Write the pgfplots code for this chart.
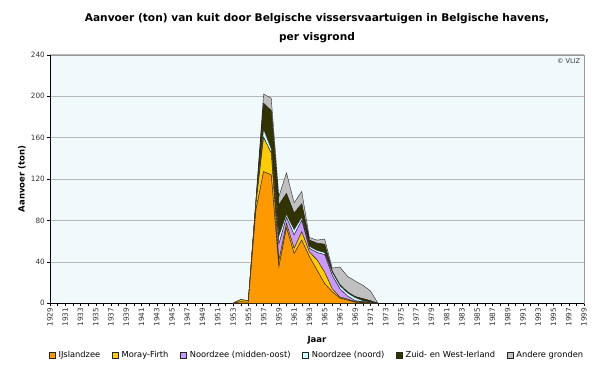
\documentclass[border=0pt]{standalone}
\usepackage{pgfplots}
\pgfplotsset{compat=1.18}
\usepackage{pgfplotstable}
\usepackage{fontspec}
\setmainfont{DejaVu Sans}
\definecolor{cOr}{HTML}{FF9900}
\definecolor{cYe}{HTML}{FFCC00}
\definecolor{cPu}{HTML}{CC99FF}
\definecolor{cCy}{HTML}{CCFFFF}
\definecolor{cOl}{HTML}{333300}
\definecolor{cGr}{HTML}{C0C0C0}
\definecolor{bgc}{HTML}{F0FAFC}
\definecolor{grid}{HTML}{B8B8B8}
\pgfplotstableread{
year o y p c z g
1953 0 0 0 0 0 0
1954 1.5 2 0 0 0 0
1955 1 1.5 0 0 0 0
1956 90 6 0 1 3 1
1957 127 33 0 8 25 9
1958 124 21 0 4 37 12
1959 35 6 16 8 30 8
1960 73 4 6 3 20 20
1961 48 5 13 5 16 10
1962 61 8 11 3 13 12
1963 45 4.5 3.5 2 6 2.5
1964 32 10 7 2 7 3
1965 19 11 17 2 8 5
1966 11 3 13 3 1 3
1967 5 1 8 3 1 17
1968 3 1 3 3 1 15
1969 1 0.5 1 3 1 15
1970 0.5 0.5 0.5 1 2 13
1971 0 0 0 0.5 2 9.5
1972 0 0 0 0 0 0
}\data
\begin{document}
\begin{tikzpicture}[x=1pt,y=1pt]
\path[use as bounding box] (0,0) rectangle (600,368);
\begin{axis}[
  at={(50pt,64.7pt)}, anchor=south west,
  scale only axis, width=534pt, height=248.6pt,
  xmin=1929, xmax=1999, ymin=0, ymax=240,
  clip=false,
  axis background/.style={fill=bgc},
  axis line style={draw=gray!80},
  xtick={1929,1931,...,1999},
  minor xtick={1930,1932,...,1998},
  ytick={0,40,...,240},
  xtick pos=bottom, ytick pos=left,
  tick align=outside,
  major tick length=3pt, minor tick length=3pt,
  tick style={black, line width=0.4pt},
  ymajorgrids, grid style={draw=grid, line width=0.6pt},
  /pgf/number format/assume math mode=true,
  /pgf/number format/1000 sep={},
  ticklabel style={font=\fontsize{7.3}{8}\selectfont, text=black!80},
  xticklabel style={rotate=90, anchor=east, inner sep=1.5pt},
  yticklabel style={inner sep=2pt},
  stack plots=y,
  every axis plot/.append style={draw=black!85, line width=0.4pt},
  legend image code/.code={\draw[#1, line width=0.4pt] (0pt,-3.2pt) rectangle (6.4pt,3.2pt);},
  legend style={at={(axis description cs:0.5,0)}, yshift=-51.7pt, anchor=center,
    draw=none, fill=none, font=\fontsize{8.3}{9}\selectfont, legend columns=-1,
    /tikz/every odd column/.append style={column sep=1pt},
    /tikz/every even column/.append style={column sep=9.5pt}, inner sep=0pt},
]
\addplot[fill=cOr] table[x=year,y=o]{\data} \closedcycle;
\addlegendentry{IJslandzee}
\addplot[fill=cYe] table[x=year,y=y]{\data} \closedcycle;
\addlegendentry{Moray-Firth}
\addplot[fill=cPu] table[x=year,y=p]{\data} \closedcycle;
\addlegendentry{Noordzee (midden-oost)}
\addplot[fill=cCy] table[x=year,y=c]{\data} \closedcycle;
\addlegendentry{Noordzee (noord)}
\addplot[fill=cOl] table[x=year,y=z]{\data} \closedcycle;
\addlegendentry{Zuid- en West-Ierland}
\addplot[fill=cGr] table[x=year,y=g]{\data} \closedcycle;
\addlegendentry{Andere gronden}
\draw[black, line width=0.5pt] (rel axis cs:0,0) -- (rel axis cs:0,1);
\draw[black, line width=0.5pt] (rel axis cs:0,0) -- (rel axis cs:1,0);
\node[anchor=north east, font=\fontsize{6.5}{7}\selectfont, text=black!80, inner sep=1pt] at (rel axis cs:0.995,0.99) {© VLIZ};
\node[font=\bfseries\fontsize{10.6}{19}\selectfont, align=center] at (axis description cs:0.5,1) [yshift=26.8pt] {Aanvoer (ton) van kuit door Belgische vissersvaartuigen in Belgische havens,\\per visgrond};
\node[font=\bfseries\fontsize{8.5}{9}\selectfont, rotate=90] at (axis description cs:0,0.5) [yshift=28pt] {Aanvoer (ton)};
\node[font=\bfseries\fontsize{8.5}{9}\selectfont] at (axis description cs:0.5,0) [yshift=-37pt] {Jaar};
\end{axis}
\end{tikzpicture}
\end{document}
